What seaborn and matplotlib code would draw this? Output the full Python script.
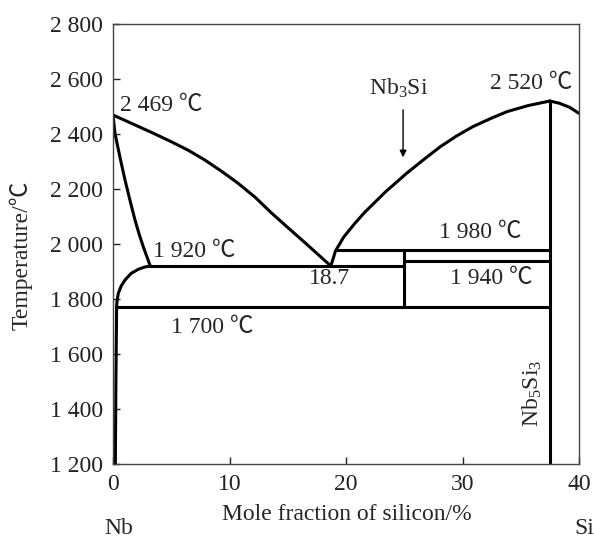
import seaborn as sns
import matplotlib.pyplot as plt
import pandas as pd

# phase boundaries (x = mole % Si, t = temperature in C)
liq_left_x = [0, 1.0, 2.2, 3.6, 5.0, 6.5, 7.9, 9.3, 10.7, 12.2, 13.6, 15.0, 16.5, 17.6, 18.7]
liq_left_t = [2469, 2450, 2427, 2400, 2372, 2340, 2305, 2265, 2222, 2170, 2113, 2060, 2004, 1962, 1920]

sol_left_x = [0, 0.17, 0.6, 1.03, 1.45, 1.89, 2.25, 2.6, 2.9, 3.2]
sol_left_t = [2469, 2402, 2315, 2233, 2160, 2087, 2035, 1990, 1955, 1920]

solvus_x = [3.2, 2.7, 2.17, 1.55, 1.03, 0.7, 0.46, 0.35, 0.31, 0.25, 0.2]
solvus_t = [1920, 1916, 1908, 1893, 1869, 1847, 1821, 1795, 1772, 1500, 1200]

liq_right_x = [18.7, 19.1, 19.8, 20.7, 21.6, 23.4, 25.2, 26.7, 28.1, 29.5, 30.9, 32.4, 33.8, 35.6, 37.5]
liq_right_t = [1920, 1975, 2025, 2072, 2115, 2190, 2257, 2308, 2354, 2393, 2427, 2456, 2481, 2503, 2520]

beyond_x = [37.5, 38.3, 39.2, 40]
beyond_t = [2520, 2512, 2497, 2475]

# isotherms (x0, x1, t) and vertical phase lines (x, t0, t1)
iso_x0 = [3.2, 0.3, 19.2, 25]
iso_x1 = [25, 37.5, 37.5, 37.5]
iso_t = [1920, 1770, 1980, 1940]
vert_x = [25, 37.5]
vert_t0 = [1770, 1200]
vert_t1 = [1980, 2520]

x_ticks = [0, 10, 20, 30, 40]
y_ticks = [1200, 1400, 1600, 1800, 2000, 2200, 2400, 2600, 2800]
y_labels = ["1 200", "1 400", "1 600", "1 800", "2 000", "2 200", "2 400", "2 600", "2 800"]

rows = []
def add(name, xs, ts):
    for x, t in zip(xs, ts):
        rows.append({"curve": name, "x": x, "t": t})

add("liq_left", liq_left_x, liq_left_t)
add("sol_left", sol_left_x, sol_left_t)
add("solvus", solvus_x, solvus_t)
add("liq_right", liq_right_x, liq_right_t)
add("beyond", beyond_x, beyond_t)
for i, (a, b, t) in enumerate(zip(iso_x0, iso_x1, iso_t)):
    add(f"iso{i}", [a, b], [t, t])
for i, (x, a, b) in enumerate(zip(vert_x, vert_t0, vert_t1)):
    add(f"vert{i}", [x, x], [a, b])
df = pd.DataFrame(rows)

sns.set_theme(style="ticks")
plt.rcParams["font.family"] = ["Liberation Serif", "Noto Sans CJK SC", "DejaVu Serif"]
plt.rcParams["mathtext.default"] = "regular"

fig = plt.figure(figsize=(5.94, 5.37), dpi=100)
ax = fig.add_axes([113 / 594, 1 - 464 / 537, 466 / 594, 440 / 537])

sns.lineplot(data=df, x="x", y="t", units="curve", estimator=None, sort=False,
             color="black", lw=2.2, ax=ax, legend=False)

fs = 17
ax.set_xlim(0, 40)
ax.set_ylim(1200, 2800)
ax.set_xticks(x_ticks)
ax.set_yticks(y_ticks)
ax.set_yticklabels(y_labels)
ax.tick_params(direction="in", length=5, width=1, labelsize=fs, colors="#222222", pad=7)
for s in ax.spines.values():
    s.set_linewidth(1)
    s.set_color("#444444")

ax.set_xlabel("Mole fraction of silicon/%", fontsize=fs)
ax.xaxis.set_label_coords(234 / 466, -51 / 440)
ax.xaxis.label.set_va("center")
ax.set_ylabel("Temperature/℃", fontsize=fs)
ax.yaxis.set_label_coords(-80 / 466, 209 / 440)

ax.text(0.6, 2505, "2 469 ℃", fontsize=fs, va="center", ha="left")
ax.text(3.4, 1971, "1 920 ℃", fontsize=fs, va="center", ha="left")
ax.text(18.6, 1876, "18.7", fontsize=fs, va="center", ha="center")
ax.text(31.5, 2040, "1 980 ℃", fontsize=fs, va="center", ha="center")
ax.text(32.5, 1876, "1 940 ℃", fontsize=fs, va="center", ha="center")
ax.text(8.5, 1695, "1 700 ℃", fontsize=fs, va="center", ha="center")
ax.text(35.9, 2585, "2 520 ℃", fontsize=fs, va="center", ha="center")
ax.text(24.5, 2567, "Nb$_3$Si", fontsize=fs, va="center", ha="center")
ax.text(35.97, 1458, "Nb$_5$Si$_3$", fontsize=fs, va="center", ha="center", rotation=90)
ax.annotate("", xy=(24.9, 2305), xytext=(24.9, 2498),
            arrowprops=dict(arrowstyle="-|>", color="black", lw=1, mutation_scale=10))

fig.text(119 / 594, 1 - 528 / 537, "Nb", fontsize=fs, ha="center", va="center")
fig.text(584 / 594, 1 - 528 / 537, "Si", fontsize=fs, ha="center", va="center")

fig.savefig("out.png", dpi=100)
